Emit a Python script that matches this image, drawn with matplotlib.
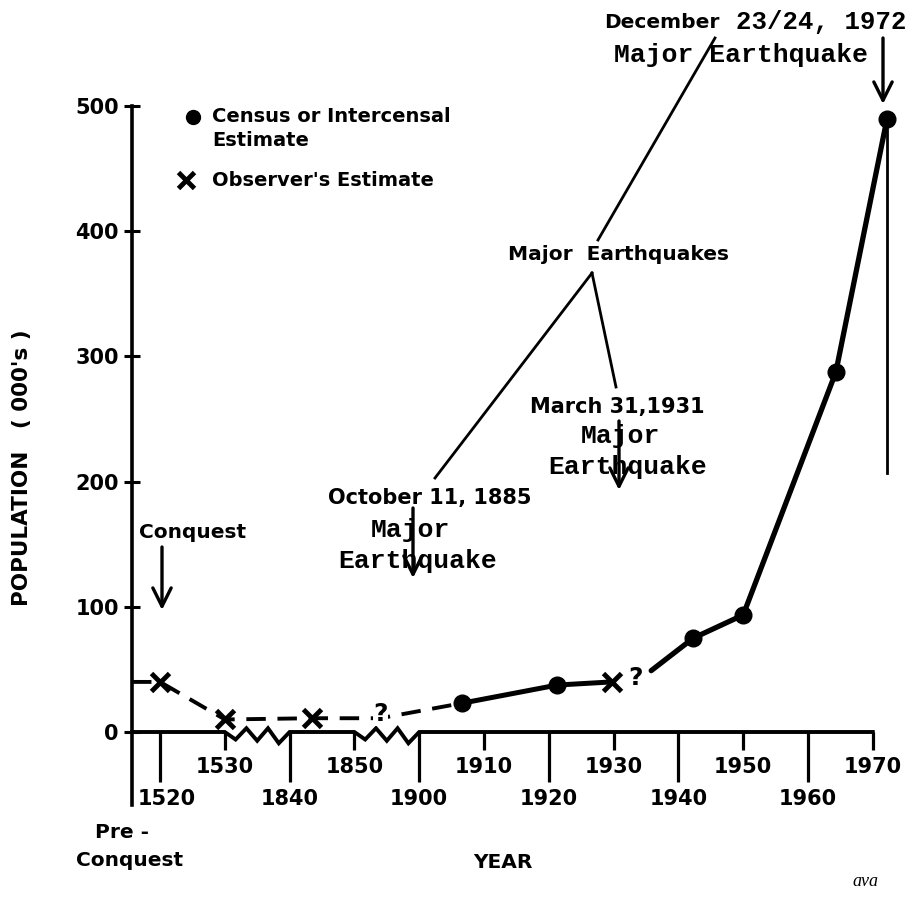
import numpy as np
import matplotlib
matplotlib.use('Agg')
import matplotlib.pyplot as plt
from matplotlib.transforms import ScaledTranslation

# ---------------- data ----------------
tick_years = [1520, 1530, 1840, 1850, 1900, 1910, 1920, 1930, 1940, 1950, 1960, 1970]
long_tick_labels = ['1520', '1840', '1900', '1920', '1940', '1960']
short_tick_labels = ['1530', '1850', '1910', '1930', '1950', '1970']
y_ticks = [0, 100, 200, 300, 400, 500]

census_years = [1906.6, 1921.3, 1942.3, 1950.0, 1964.3, 1972.2]
census_pop = [23, 37.5, 75, 93.5, 287.5, 490]

observer_years = [1520, 1530.5, 1843.4, 1929.7]
observer_pop = [40, 10, 11, 40]

pre_conquest_pop = 40
uncertain_year = 1870      # '?' on the dashed line
uncertain_pop = 11
restart_year = 1935.8      # solid line resumes after second '?'
restart_pop = 49
quake_line_bottom = 207    # thin vertical line below 1972 point

# ---------------- helpers ----------------
W, H = 912, 899
PX, X0, Y0, PY = 64.8, 160.0, 732.0, 1.252


def xpos(years):
    y = np.asarray(years, dtype=float)
    idx = np.interp(y, tick_years, np.arange(len(tick_years)))
    idx = np.where(y > tick_years[-1], len(tick_years) - 1 + (y - tick_years[-1]) / 10.0, idx)
    return idx


def F(px, py):
    return (px / W, 1 - py / H)


plt.rcParams['font.family'] = ['DejaVu Sans']
plt.rcParams['font.weight'] = 'bold'

fig = plt.figure(figsize=(W / 100, H / 100), dpi=100)
ax = fig.add_axes([0, 0, 1, 1])
ax.set_xlim(-X0 / PX, (W - X0) / PX)
ax.set_ylim((Y0 - H) / PY, Y0 / PY)
axis_x = (132 - X0) / PX

for s in ['top', 'right']:
    ax.spines[s].set_visible(False)
ax.spines['left'].set_position(('data', axis_x))
ax.spines['left'].set_bounds(-58, 500)
ax.spines['left'].set_linewidth(2.6)
ax.spines['bottom'].set_position(('data', 0))
ax.spines['bottom'].set_visible(False)

ax.set_yticks(y_ticks)
ax.tick_params(axis='y', direction='inout', length=11, width=2.2, pad=4, labelsize=15)

ax.set_xticks(xpos(tick_years[0::2]))
ax.set_xticklabels(long_tick_labels)
ax.set_xticks(xpos(tick_years[1::2]), minor=True)
ax.set_xticklabels(short_tick_labels, minor=True)
ax.tick_params(axis='x', which='major', direction='out', length=36, width=2.3, pad=5, labelsize=15)
ax.tick_params(axis='x', which='minor', direction='out', length=13, width=2.3, pad=5, labelsize=15)
lbl = ax.xaxis.get_major_ticks()[0].label1
lbl.set_transform(lbl.get_transform() + ScaledTranslation(0.07, 0, fig.dpi_scale_trans))

# x axis line with break zigzags
zig_f = np.array([0, 1/6, 2/6, 3/6, 4/6, 5/6, 1])
zig_y = [0, -6, 3, -7, 3, -9, 0]
zx = [axis_x, 0.0]
zy = [0, 0]
for a, b in [(1, 2), (3, 4)]:
    if zx[-1] != a:
        zx.append(a); zy.append(0)
    zx += list(a + zig_f * (b - a)); zy += zig_y
zx.append(len(tick_years) - 1); zy.append(0)
ax.plot(zx, zy, color='black', lw=2.8, solid_joinstyle='miter', clip_on=False)

# dashed observer path
dash_x = [axis_x] + list(xpos(observer_years[:3])) + list(xpos([uncertain_year, census_years[0]]))
dash_y = [pre_conquest_pop] + observer_pop[:3] + [uncertain_pop, census_pop[0]]
ax.plot(dash_x, dash_y, color='black', lw=2.8, dashes=(5, 3))

# solid census lines
s1x = xpos([census_years[0], census_years[1], observer_years[3]])
s1y = [census_pop[0], census_pop[1], observer_pop[3]]
ax.plot(s1x, s1y, color='black', lw=3.6, solid_capstyle='round')
s2x = xpos([restart_year] + census_years[2:])
s2y = [restart_pop] + census_pop[2:]
ax.plot(s2x, s2y, color='black', lw=3.8, solid_capstyle='round')

ax.plot(xpos(census_years), census_pop, 'o', color='black', ms=12)
ax.plot(xpos(observer_years), observer_pop, 'x', color='black', ms=13, mew=3.5)

xl = xpos([census_years[-1]])[0]
ax.plot([xl, xl], [census_pop[-1], quake_line_bottom], color='black', lw=2)

# question marks
qkw = dict(fontsize=18, fontweight='bold', ha='center', va='center')
ax.annotate('?', (xpos([uncertain_year])[0], uncertain_pop), xytext=(0, 3),
            textcoords='offset points', bbox=dict(fc='white', ec='none', pad=0), **qkw)
ax.annotate('?', (xpos([observer_years[3]])[0], observer_pop[3]), xytext=(17, 3),
            textcoords='offset points', **qkw)

# legend
fig.add_artist(plt.Line2D([193 / W], [1 - 117 / H], marker='o', color='black', ms=10,
                          transform=fig.transFigure))
fig.add_artist(plt.Line2D([186 / W], [1 - 180 / H], marker='x', color='black', ms=11, mew=3.5,
                          transform=fig.transFigure))
lkw = dict(fontsize=14, fontweight='bold', ha='left', va='center')
fig.text(*F(212, 117), 'Census or Intercensal', **lkw)
fig.text(*F(212, 140), 'Estimate', **lkw)
fig.text(*F(212, 180), "Observer's Estimate", **lkw)

# annotations
def arrow(p0, p1):
    ax.annotate('', xy=F(*p1), xytext=F(*p0), xycoords='figure fraction',
                textcoords='figure fraction',
                arrowprops=dict(arrowstyle='->,head_length=0.6,head_width=0.3', lw=2.4,
                                color='black', shrinkA=0, shrinkB=0, mutation_scale=22))


def seg(p0, p1, lw=2.0):
    fig.add_artist(plt.Line2D([p0[0] / W, p1[0] / W], [1 - p0[1] / H, 1 - p1[1] / H],
                              color='black', lw=lw, transform=fig.transFigure))


arrow((883, 38), (883, 104))
arrow((162, 547), (162, 610))
arrow((413, 508), (413, 578))
arrow((619, 421), (619, 490))

seg((715, 38), (598, 240))
seg((592, 273), (435, 478))
seg((592, 273), (616, 387))

skw = dict(fontsize=14.5, fontweight='bold', ha='center', va='center')
mkw = dict(fontsize=19, fontweight='bold', ha='center', va='center', family='Liberation Mono')

fig.text(*F(720, 22), 'December', fontsize=14.5, fontweight='bold', ha='right', va='center')
fig.text(*F(736, 22), '23/24, 1972', fontsize=18.5, fontweight='bold', ha='left', va='center',
         family='Liberation Mono')
fig.text(*F(741, 55), 'Major Earthquake', **mkw)

fig.text(*F(618, 255), 'Major  Earthquakes', **skw)
fig.text(*F(617, 407), 'March 31,1931', fontsize=15, fontweight='bold', ha='center', va='center')
fig.text(*F(620, 436), 'Major', **mkw)
fig.text(*F(628, 467), 'Earthquake', **mkw)

fig.text(*F(430, 498), 'October 11, 1885', fontsize=15, fontweight='bold', ha='center', va='center')
fig.text(*F(410, 530), 'Major', **mkw)
fig.text(*F(418, 561), 'Earthquake', **mkw)

fig.text(*F(193, 532), 'Conquest', **skw)
fig.text(*F(122, 833), 'Pre -', **skw)
fig.text(*F(130, 860), 'Conquest', **skw)
fig.text(*F(503, 862), 'YEAR', **skw)
fig.text(*F(22, 468), "POPULATION   ( 000's )", rotation=90, fontsize=15.5, fontweight='bold',
         ha='center', va='center')
fig.text(*F(865, 882), 'ava', fontsize=13, style='italic', fontweight='normal',
         family='Liberation Serif', ha='center', va='center')

fig.savefig('out.png', dpi=100, facecolor='white')
